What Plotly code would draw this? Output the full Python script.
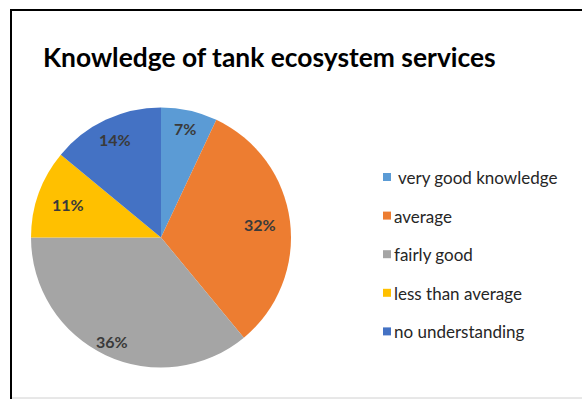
import math
import plotly.graph_objects as go

labels = ["very good knowledge", "average", "fairly good", "less than average", "no understanding"]
values = [7, 32, 36, 11, 14]
colors = ["#5B9BD5", "#ED7D31", "#A5A5A5", "#FFC000", "#4472C4"]
legend_texts = [" very good knowledge", "average", "fairly good", "less than average", "no understanding"]

W, H = 582, 401
FONT = "Lato"

# pie geometry (pixels)
CX, CY, R = 161, 237.5, 130
label_r = [0.86, 0.77, 0.88, 0.76, 0.83]   # radial position of each percent label

fig = go.Figure()
fig.add_trace(go.Pie(
    labels=labels, values=values, sort=False, direction="clockwise", rotation=0,
    marker=dict(colors=colors, line=dict(width=0)),
    textinfo="none",
    domain=dict(x=[(CX - R) / W, (CX + R) / W], y=[1 - (CY + R) / H, 1 - (CY - R) / H]),
    showlegend=False, hoverinfo="label+percent",
))

shapes = [
    dict(type="line", xref="paper", yref="paper", x0=11 / W, x1=11 / W, y0=1 - 399 / H, y1=1 - 10 / H,
         line=dict(color="black", width=2)),
    dict(type="line", xref="paper", yref="paper", x0=10 / W, x1=1.01, y0=1 - 10 / H, y1=1 - 10 / H,
         line=dict(color="black", width=2)),
    dict(type="line", xref="paper", yref="paper", x0=12 / W, x1=1.01, y0=1 - 398 / H, y1=1 - 398 / H,
         line=dict(color="#d0d0d0", width=1)),
]
annotations = [dict(text="<b>Knowledge of tank ecosystem services</b>", xref="paper", yref="paper",
                    x=41 / W, y=1 - 57 / H, xanchor="left", yanchor="middle", showarrow=False,
                    font=dict(family=FONT, size=26.4, color="black"))]

# percent labels placed at the middle angle of each slice
total = sum(values)
cum = 0
for v, rf in zip(values, label_r):
    mid = (cum + v / 2) / total * 2 * math.pi
    cum += v
    px = CX + math.sin(mid) * R * rf
    py = CY - math.cos(mid) * R * rf
    annotations.append(dict(text=f"<b>{round(100 * v / total)}%</b>", xref="paper", yref="paper",
                            x=px / W, y=1 - py / H, xanchor="center", yanchor="middle",
                            showarrow=False, font=dict(family=FONT, size=16, color="#3a3a3a")))

leg_y0, leg_dy = 177, 38.6
for i, (t, c) in enumerate(zip(legend_texts, colors)):
    cy = leg_y0 + i * leg_dy
    shapes.append(dict(type="rect", xref="paper", yref="paper",
                       x0=383 / W, x1=391 / W, y0=1 - (cy + 4) / H, y1=1 - (cy - 4) / H,
                       line=dict(width=0), fillcolor=c))
    annotations.append(dict(text=t, xref="paper", yref="paper", x=392 / W, y=1 - (cy + 0.5) / H,
                            xanchor="left", yanchor="middle", showarrow=False,
                            font=dict(family=FONT, size=17, color="#262626")))

fig.update_layout(width=W, height=H, margin=dict(l=0, r=0, t=0, b=0),
                  paper_bgcolor="white", plot_bgcolor="white",
                  shapes=shapes, annotations=annotations)
fig.write_html("out.html", config={"displayModeBar": False},
               post_script="document.body.style.margin='0';document.body.style.overflow='hidden';")
